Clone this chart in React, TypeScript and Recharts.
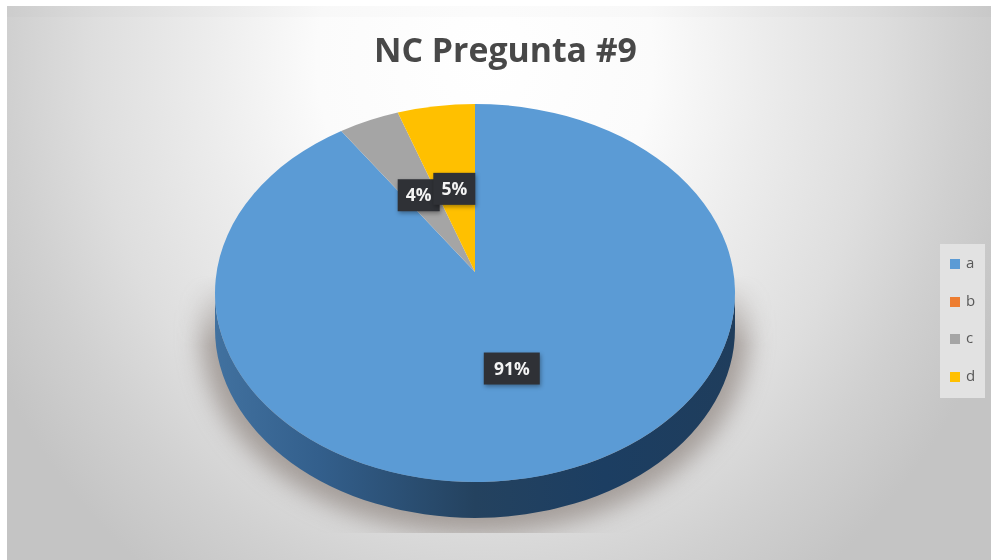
import React from "react";
import { PieChart, Pie, Cell, Legend } from "recharts";

const TITLE = "NC Pregunta #9";
const CATEGORIES = ["a", "b", "c", "d"];
const VALUES = [91.4, 0, 3.8, 4.8];
const COLORS = ["#5b9bd5", "#ed7d31", "#a5a5a5", "#ffc000"];
const tableData = CATEGORIES.map((name, i) => ({ name, value: VALUES[i] }));

const CX = 475;
const CY = 293;
const RX = 260;
const RATIO = 189 / 260;
const TIP_LIFT = 21;
const DEPTH = 36;
const RAD = Math.PI / 180;

const EllipseSector = (p: any) => {
  const rx = p.outerRadius;
  const ry = rx * RATIO;
  const tipY = p.cy - TIP_LIFT;
  const x = (a: number) => p.cx + rx * Math.cos(a * RAD);
  const y = (a: number) => p.cy - ry * Math.sin(a * RAD);
  const sweep = Math.abs(p.endAngle - p.startAngle);
  if (sweep === 0) return <g />;
  const d = `M${p.cx},${tipY} L${x(p.startAngle)},${y(p.startAngle)} A${rx},${ry} 0 ${sweep > 180 ? 1 : 0} 1 ${x(p.endAngle)},${y(p.endAngle)} Z`;
  const isMain = sweep > 180;
  const wall = `M${p.cx - rx},${p.cy} A${rx},${ry} 0 0 0 ${p.cx + rx},${p.cy} L${p.cx + rx},${p.cy + DEPTH} A${rx},${ry} 0 0 1 ${p.cx - rx},${p.cy + DEPTH} Z`;
  return (
    <g>
      {isMain && (
        <g clipPath="url(#shadowClip)">
          <g mask="url(#shadowMask)">
            <ellipse cx={p.cx} cy={p.cy + DEPTH + 6} rx={rx + 14} ry={ry + 10} fill="#7d726a" fillOpacity={0.6} style={{ filter: "blur(12px)" }} />
          </g>
        </g>
      )}
      {isMain && <path d={wall} fill="url(#wallGrad)" />}
      <path d={d} fill={p.fill} />
    </g>
  );
};

const renderLabel = (p: any) => {
  if (!p.value) return null;
  const rx = p.outerRadius;
  const ry = rx * RATIO;
  const s = Math.sin(p.midAngle * RAD);
  const lx = p.cx + 0.53 * rx * Math.cos(p.midAngle * RAD);
  const ly = p.cy - TIP_LIFT - (s > 0 ? 0.445 : 0.53) * ry * s;
  const w = p.value > 9 ? 56 : 42;
  const h = 32;
  return (
    <g>
      <rect x={lx - w / 2} y={ly - h / 2} width={w} height={h} fill="#2f3136" style={{ filter: "drop-shadow(1px 2px 2px rgba(0,0,0,0.35))" }} />
      <text x={lx} y={ly + 6} textAnchor="middle" fill="#f4f4f4" fontFamily="'Open Sans', sans-serif" fontWeight={700} fontSize={17.5}>
        {`${Math.round(p.value)}%`}
      </text>
    </g>
  );
};

const legendText = (value: string) => (
  <span style={{ color: "#595959", fontSize: 15, marginLeft: 2, fontFamily: "'Open Sans', sans-serif" }}>{value}</span>
);

export default function App() {
  return (
    <div style={{ position: "absolute", left: 0, top: 0, width: 991, height: 560, background: "#ffffff", overflow: "hidden" }}>
      <div
        style={{
          position: "absolute",
          left: 7,
          top: 6,
          width: 984,
          height: 554,
          background:
            "radial-gradient(ellipse 560px 640px at 478px 54px, #ffffff 0%, #fbfbfb 30%, #ececec 50%, #dedede 70%, #d0d0d0 85%, #c4c4c4 100%)",
        }}
      />
      <div style={{ position: "absolute", left: 7, top: 6, width: 984, height: 11, background: "rgba(0,0,0,0.012)" }} />
      <div style={{ position: "absolute", left: 0, top: 0, width: 991, height: 560, filter: "blur(0.7px)" }}>
        <div
          style={{
            position: "absolute",
            left: 0,
            top: 26,
            width: 991,
            textAlign: "center",
            paddingLeft: 20,
            boxSizing: "border-box",
            fontFamily: "'Open Sans', sans-serif",
            fontWeight: 700,
            fontSize: 33.8,
            lineHeight: "46px",
            color: "#484848",
          }}
        >
          {TITLE}
        </div>
        <div style={{ position: "absolute", left: 0, top: 0 }}>
          <PieChart width={991} height={533} margin={{ top: 0, right: 0, bottom: 0, left: 0 }}>
            <defs>
              <linearGradient id="wallGrad" x1="0" y1="0" x2="1" y2="0">
                <stop offset="0%" stopColor="#41719f" />
                <stop offset="20%" stopColor="#335f8c" />
                <stop offset="50%" stopColor="#24425f" />
                <stop offset="75%" stopColor="#1c3e62" />
                <stop offset="100%" stopColor="#1f3d5c" />
              </linearGradient>
              <clipPath id="shadowClip">
                <rect x={150} y={250} width={650} height={283} />
              </clipPath>
              <linearGradient id="shadowFade" gradientUnits="userSpaceOnUse" x1="0" y1="275" x2="0" y2="345">
                <stop offset="0%" stopColor="#000000" />
                <stop offset="100%" stopColor="#ffffff" />
              </linearGradient>
              <mask id="shadowMask" maskUnits="userSpaceOnUse" x={100} y={200} width={750} height={360}>
                <rect x={100} y={200} width={750} height={360} fill="url(#shadowFade)" />
              </mask>
            </defs>
            <Pie
              data={tableData}
              dataKey="value"
              nameKey="name"
              cx={CX}
              cy={CY}
              outerRadius={RX}
              startAngle={90}
              endAngle={-270}
              stroke="none"
              isAnimationActive={false}
              shape={EllipseSector}
              label={renderLabel}
              labelLine={false}
            >
              {tableData.map((d, i) => (
                <Cell key={d.name} fill={COLORS[i]} />
              ))}
            </Pie>
            <Legend
              layout="vertical"
              align="right"
              verticalAlign="top"
              iconType="square"
              iconSize={10}
              formatter={legendText}
              wrapperStyle={{ position: "absolute", left: 940, top: 244, width: 45, height: 154, right: "auto", background: "#e2e2e2", paddingLeft: 10, paddingTop: 0, boxSizing: "border-box", lineHeight: "37.5px" }}
            />
          </PieChart>
        </div>
      </div>
    </div>
  );
}
